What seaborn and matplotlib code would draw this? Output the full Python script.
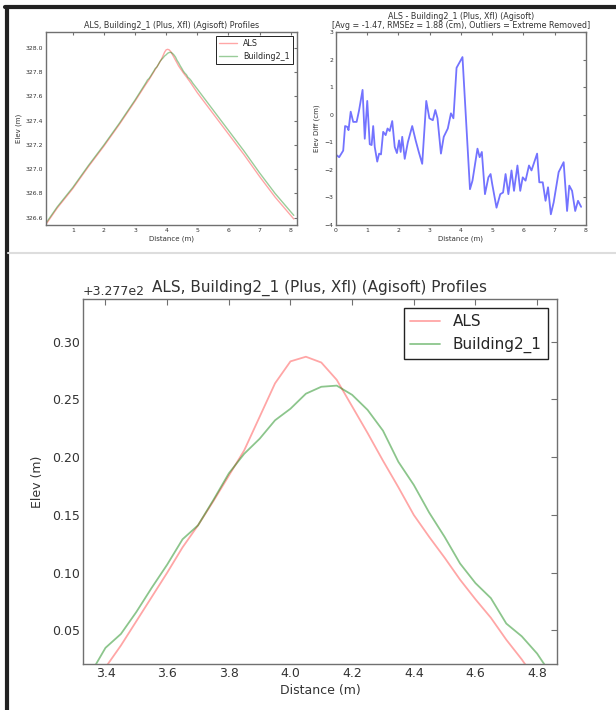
import matplotlib
matplotlib.use('Agg')
import matplotlib.pyplot as plt
import seaborn as sns
import numpy as np
import pandas as pd
from matplotlib.ticker import ScalarFormatter, MultipleLocator
from matplotlib.lines import Line2D

# ---------------- data ----------------
als_dist = [0.15, 0.5, 1.0, 1.5, 2.0, 2.5, 3.0, 3.35,
            3.40, 3.45, 3.50, 3.55, 3.60, 3.65, 3.70, 3.75, 3.80, 3.85,
            3.90, 3.95, 4.00, 4.05, 4.10, 4.15, 4.20, 4.25, 4.30, 4.35,
            4.40, 4.45, 4.50, 4.55, 4.60, 4.65, 4.70, 4.75, 4.80,
            5.0, 5.5, 6.0, 6.5, 7.0, 7.5, 8.0, 8.1]
als_elev = [326.55, 326.68, 326.84, 327.02, 327.19, 327.37, 327.56, 327.700,
            327.718, 327.737, 327.758, 327.779, 327.800, 327.822, 327.841, 327.862, 327.884, 327.906,
            327.935, 327.964, 327.983, 327.987, 327.982, 327.967, 327.944, 327.921, 327.897, 327.874,
            327.850, 327.831, 327.813, 327.794, 327.777, 327.761, 327.742, 327.725, 327.706,
            327.63, 327.46, 327.29, 327.12, 326.94, 326.77, 326.62, 326.59]

bld_dist = [0.15, 0.5, 1.0, 1.5, 2.0, 2.5, 3.0, 3.35,
            3.40, 3.45, 3.50, 3.55, 3.60, 3.65, 3.70, 3.75, 3.80, 3.85,
            3.90, 3.95, 4.00, 4.05, 4.10, 4.15, 4.20, 4.25, 4.30, 4.35,
            4.40, 4.45, 4.50, 4.55, 4.60, 4.65, 4.70, 4.75, 4.80, 4.85,
            5.0, 5.5, 6.0, 6.5, 7.0, 7.5, 8.0, 8.1]
bld_elev = [326.56, 326.69, 326.85, 327.03, 327.20, 327.38, 327.57, 327.712,
            327.735, 327.747, 327.766, 327.787, 327.807, 327.829, 327.841, 327.863, 327.886, 327.903,
            327.916, 327.932, 327.942, 327.955, 327.961, 327.962, 327.954, 327.941, 327.923, 327.896,
            327.876, 327.852, 327.831, 327.808, 327.791, 327.778, 327.756, 327.745, 327.730, 327.710,
            327.66, 327.49, 327.32, 327.15, 326.97, 326.80, 326.65, 326.62]

diff_dist = [0.0, 0.10, 0.23, 0.29, 0.36, 0.40, 0.47, 0.55, 0.66, 0.74, 0.85, 0.92,
             1.00, 1.08, 1.14, 1.19, 1.24, 1.32, 1.38, 1.44, 1.51, 1.59, 1.65, 1.72,
             1.80, 1.88, 1.95, 2.02, 2.07, 2.12, 2.20, 2.30, 2.44, 2.55, 2.65, 2.76,
             2.89, 2.99, 3.10, 3.18, 3.25, 3.36, 3.45, 3.58, 3.68, 3.76, 3.86, 4.05,
             4.29, 4.37, 4.53, 4.60, 4.67, 4.77, 4.88, 4.95, 5.00, 5.14, 5.26, 5.35,
             5.43, 5.52, 5.62, 5.70, 5.81, 5.90, 5.98, 6.07, 6.18, 6.26, 6.44, 6.51,
             6.62, 6.71, 6.79, 6.88, 6.97, 7.13, 7.29, 7.40, 7.47, 7.56, 7.66, 7.75, 7.85]
diff_cm = [-1.45, -1.54, -1.30, -0.41, -0.44, -0.56, 0.11, -0.26, -0.26, 0.17, 0.90, -0.87,
           0.50, -1.07, -1.10, -0.41, -1.17, -1.70, -1.41, -1.44, -0.62, -0.74, -0.50, -0.59,
           -0.23, -1.17, -1.39, -0.93, -1.35, -0.80, -1.60, -1.00, -0.41, -0.93, -1.35, -1.78,
           0.50, -0.13, -0.20, 0.17, -0.13, -1.41, -0.80, -0.50, 0.05, -0.13, 1.70, 2.09,
           -2.70, -2.39, -1.23, -1.54, -1.35, -2.88, -2.27, -2.15, -2.50, -3.37, -2.88, -2.82,
           -2.15, -2.88, -2.02, -2.76, -1.84, -2.76, -2.27, -2.39, -1.84, -2.02, -1.41, -2.45,
           -2.45, -3.12, -2.63, -3.61, -3.18, -2.08, -1.72, -3.49, -2.57, -2.76, -3.49, -3.12, -3.34]

series_labels = ["ALS", "Building2_1"]
title_profiles = "ALS, Building2_1 (Plus, Xfl) (Agisoft) Profiles"
title_diff = "ALS - Building2_1 (Plus, Xfl) (Agisoft)\n[Avg = -1.47, RMSEz = 1.88 (cm), Outliers = Extreme Removed]"

# ---------------- style ----------------
sns.set_style("white")
plt.rcParams['font.family'] = ['DejaVu Sans']

RED = '#ff0000'
GREEN = '#008000'
BLUE = '#0000ff'
SPINE = '#707070'
TXT = '#333333'

fig = plt.figure(figsize=(6.16, 7.10), dpi=100)
ax1 = fig.add_axes([0.0747, 0.683, 0.4073, 0.272])
ax2 = fig.add_axes([0.5455, 0.683, 0.4055, 0.272])
ax3 = fig.add_axes([0.1347, 0.0648, 0.7693, 0.5141])


def style_axes(ax, tick_fs, tick_len):
    for s in ax.spines.values():
        s.set_color(SPINE)
        s.set_linewidth(1.0)
    ax.tick_params(direction='in', top=True, right=True, length=tick_len,
                   width=0.8, color=SPINE, labelsize=tick_fs, labelcolor=TXT, pad=2)


df_als = pd.DataFrame({'d': als_dist, 'e': als_elev})
df_bld = pd.DataFrame({'d': bld_dist, 'e': bld_elev})
df_diff = pd.DataFrame({'d': diff_dist, 'v': diff_cm})

# ---- top-left: full profiles ----
sns.lineplot(data=df_als, x='d', y='e', ax=ax1, color=RED, alpha=0.35, lw=1.0,
             label=series_labels[0], estimator=None, sort=False)
sns.lineplot(data=df_bld, x='d', y='e', ax=ax1, color=GREEN, alpha=0.4, lw=1.0,
             label=series_labels[1], estimator=None, sort=False)
ax1.set_xlim(0.14, 8.2)
ax1.set_ylim(326.54, 328.13)
ax1.xaxis.set_major_locator(MultipleLocator(1))
ax1.yaxis.set_major_locator(MultipleLocator(0.2))
style_axes(ax1, 4.4, 2.5)
ax1.set_title(title_profiles, fontsize=5.8, color=TXT, pad=3)
ax1.set_xlabel("Distance (m)", fontsize=5, color=TXT, labelpad=2)
ax1.set_ylabel("Elev (m)", fontsize=5, color=TXT, labelpad=3)
leg1 = ax1.legend(loc='upper right', fontsize=5.8, frameon=True, fancybox=False,
                  edgecolor='#222222', framealpha=1, borderpad=0.4, handlelength=2.2)
leg1.get_frame().set_linewidth(0.7)

# ---- top-right: difference ----
sns.lineplot(data=df_diff, x='d', y='v', ax=ax2, color=BLUE, alpha=0.55, lw=1.3,
             estimator=None, sort=False)
ax2.set_xlim(0, 8)
ax2.set_ylim(-4, 3)
ax2.xaxis.set_major_locator(MultipleLocator(1))
ax2.yaxis.set_major_locator(MultipleLocator(1))
style_axes(ax2, 4.4, 2.5)
ax2.set_title(title_diff, fontsize=5.8, color=TXT, pad=3, linespacing=1.0)
ax2.set_xlabel("Distance (m)", fontsize=5, color=TXT, labelpad=2)
ax2.set_ylabel("Elev Diff (cm)", fontsize=5, color=TXT, labelpad=3)

# ---- bottom: zoomed profiles ----
sns.lineplot(data=df_als, x='d', y='e', ax=ax3, color=RED, alpha=0.35, lw=1.3,
             label=series_labels[0], estimator=None, sort=False)
sns.lineplot(data=df_bld, x='d', y='e', ax=ax3, color=GREEN, alpha=0.45, lw=1.3,
             label=series_labels[1], estimator=None, sort=False)
ax3.set_xlim(3.327, 4.864)
ax3.set_ylim(327.721, 328.037)
ax3.xaxis.set_major_locator(MultipleLocator(0.2))
ax3.yaxis.set_major_locator(MultipleLocator(0.05))
fmt = ScalarFormatter(useOffset=327.7)
ax3.yaxis.set_major_formatter(fmt)
style_axes(ax3, 9, 4)
ax3.yaxis.get_offset_text().set_fontsize(9)
ax3.yaxis.get_offset_text().set_color(TXT)
ax3.set_title(title_profiles, fontsize=11, color=TXT, pad=5)
ax3.set_xlabel("Distance (m)", fontsize=9, color=TXT, labelpad=3)
ax3.set_ylabel("Elev (m)", fontsize=9, color=TXT, labelpad=6)
leg3 = ax3.legend(loc='upper right', fontsize=11, frameon=True, fancybox=False,
                  edgecolor='#222222', framealpha=1, borderpad=0.4, handlelength=2.0,
                  borderaxespad=0.6)
leg3.get_frame().set_linewidth(1.0)

# ---- screenshot frame / separator ----
fig.add_artist(Line2D([0.0106, 0.0106], [0.0, 0.9908], transform=fig.transFigure,
                      color='#222222', lw=3))
fig.add_artist(Line2D([0.0085, 1.0], [0.9908, 0.9908], transform=fig.transFigure,
                      color='#222222', lw=3))
fig.add_artist(Line2D([0.013, 1.0], [0.6437, 0.6437], transform=fig.transFigure,
                      color='#dddddd', lw=1.5))

fig.savefig('out.png', dpi=100)
